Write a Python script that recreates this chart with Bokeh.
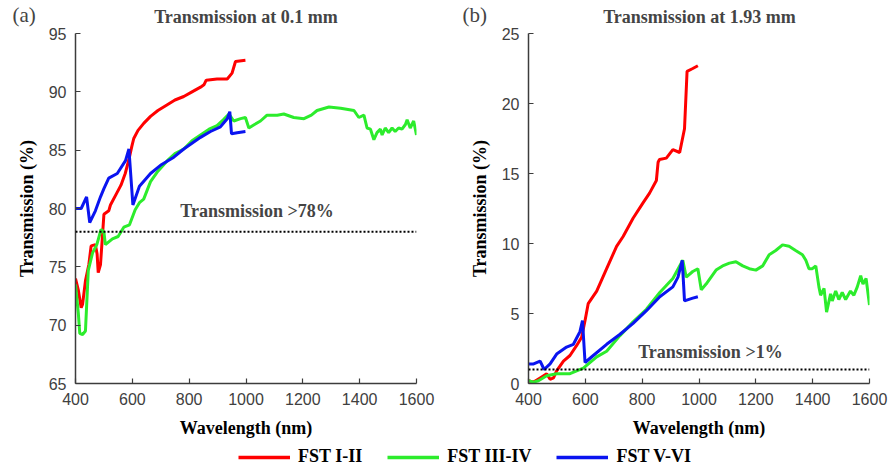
from bokeh.plotting import figure
from bokeh.models import Range1d, Label, Span, Legend, LegendItem
from bokeh.layouts import column, row
from bokeh.embed import file_html
from bokeh.resources import INLINE

# ---------------- data ----------------
x_ticks = [400, 600, 800, 1000, 1200, 1400, 1600]
ya_ticks = [65, 70, 75, 80, 85, 90, 95]
yb_ticks = [0, 5, 10, 15, 20, 25]
series_names = ["FST I-II", "FST III-IV", "FST V-VI"]
series_colors = ["#ff0000", "#2cec2c", "#0a14f0"]
panel_titles = ["Transmission at 0.1 mm", "Transmission at 1.93 mm"]
panel_tags = ["(a)", "(b)"]
threshold_a = 78
threshold_b = 1
notes = ["Transmission >78%", "Transmission >1%"]

# (a) Transmission at 0.1 mm
a_red_wl = [400, 410, 420, 425, 435, 447, 455, 470, 476, 480, 488, 500, 517, 523, 547, 560, 575, 588,
            598, 605, 620, 640, 664, 690, 723, 750, 781, 810, 840, 852, 860, 898, 934, 951, 963, 998]
a_red = [74.0, 73.0, 71.5, 71.8, 73.8, 75.2, 76.8, 76.9, 76.1, 74.5, 75.2, 79.5, 79.8, 80.3, 81.4, 82.0,
         83.0, 84.2, 85.3, 86.0, 86.7, 87.3, 87.9, 88.4, 88.9, 89.3, 89.6, 90.0, 90.4, 90.6, 91.0, 91.1,
         91.1, 91.6, 92.6, 92.7]

a_green_wl = [400, 410, 415, 425, 435, 445, 460, 475, 490, 500, 505, 530, 550, 570, 590, 610, 625, 640,
              664, 690, 723, 750, 781, 810, 840, 870, 898, 920, 940, 957, 981, 998, 1010, 1030, 1051,
              1074, 1110, 1133, 1168, 1204, 1230, 1250, 1292, 1333, 1380, 1397, 1415, 1426, 1438, 1450,
              1461, 1473, 1479, 1490, 1502, 1514, 1525, 1537, 1549, 1561, 1567, 1578, 1590, 1600]
a_green = [73.5, 71.0, 69.3, 69.2, 69.5, 74.7, 76.2, 76.9, 78.2, 78.0, 76.9, 77.4, 77.6, 78.4, 78.6,
           79.9, 80.5, 80.8, 82.3, 83.2, 84.1, 84.7, 85.1, 85.8, 86.3, 86.8, 87.1, 87.6, 88.1, 87.5,
           87.7, 87.8, 86.9, 87.2, 87.5, 88.0, 88.0, 88.1, 87.8, 87.7, 88.0, 88.4, 88.7, 88.6, 88.4,
           87.8, 88.0, 86.9, 86.8, 85.9, 86.5, 86.8, 86.3, 86.9, 86.5, 86.9, 86.6, 86.9, 86.8, 87.2,
           87.6, 86.9, 87.5, 86.3]

a_blue_wl = [400, 420, 439, 450, 470, 488, 500, 517, 547, 576, 588, 602, 625, 664, 699, 746, 781, 840,
             875, 910, 934, 943, 949, 969, 998]
a_blue = [80.0, 80.0, 81.0, 78.8, 79.8, 81.0, 81.7, 82.6, 83.0, 84.1, 85.1, 80.3, 81.9, 83.0, 83.7,
          84.4, 85.1, 86.1, 86.6, 87.0, 87.7, 88.3, 86.4, 86.5, 86.6]

# (b) Transmission at 1.93 mm
b_red_wl = [400, 418, 441, 464, 476, 488, 499, 523, 546, 569, 587, 599, 610, 640, 675, 710, 733, 768,
            803, 826, 850, 856, 861, 885, 908, 932, 949, 958, 978, 996]
b_red = [0.2, 0.1, 0.4, 0.7, 0.3, 0.4, 0.9, 1.6, 2.0, 2.7, 3.3, 4.5, 5.7, 6.6, 8.2, 9.8, 10.5, 11.8,
         12.9, 13.6, 14.5, 15.8, 16.0, 16.1, 16.7, 16.5, 18.2, 22.3, 22.5, 22.7]

b_green_wl = [400, 418, 435, 464, 499, 546, 593, 640, 675, 721, 768, 815, 862, 908, 943, 955, 978, 996,
              1008, 1025, 1060, 1083, 1107, 1130, 1154, 1177, 1200, 1224, 1247, 1270, 1294, 1317, 1340,
              1364, 1376, 1387, 1399, 1411, 1422, 1428, 1440, 1449, 1463, 1469, 1481, 1492, 1504, 1516,
              1533, 1545, 1557, 1569, 1577, 1588, 1600]
b_green = [0.2, 0.1, 0.2, 0.55, 0.7, 0.7, 1.1, 1.9, 2.3, 3.4, 4.4, 5.3, 6.5, 7.5, 8.8, 7.6, 8.0, 8.2,
           6.7, 7.1, 8.1, 8.4, 8.6, 8.7, 8.4, 8.2, 8.1, 8.4, 9.2, 9.5, 9.9, 9.8, 9.5, 9.2, 8.8, 8.2,
           8.2, 8.4, 6.9, 6.3, 6.8, 5.1, 6.4, 5.9, 6.6, 6.0, 6.5, 6.0, 6.6, 6.3, 6.9, 7.7, 7.1, 7.5, 5.6]

b_blue_wl = [400, 418, 441, 455, 476, 499, 534, 558, 581, 590, 599, 628, 675, 721, 768, 815, 862, 908,
             926, 941, 949, 978, 996]
b_blue = [1.4, 1.4, 1.6, 1.0, 1.4, 2.1, 2.6, 2.8, 3.7, 4.5, 1.5, 2.0, 2.8, 3.5, 4.3, 5.2, 6.2, 6.9,
          7.6, 8.8, 5.9, 6.1, 6.2]

SERIF = "Liberation Serif"
SANS = "Liberation Sans"
W = 888
TOP_H = 27
PANEL_H = 417
LEG_H = 25


def make_panel(width, mb_left, mb_right, yr, yticks, series, thr, note, note_x, note_y):
    p = figure(width=width, height=PANEL_H, output_backend="svg", toolbar_location=None,
               x_range=Range1d(400, 1600), y_range=Range1d(*yr),
               min_border_left=mb_left, min_border_right=mb_right,
               min_border_top=6, min_border_bottom=61)
    p.outline_line_color = None
    p.grid.visible = False
    for ax in (p.xaxis, p.yaxis):
        ax.axis_line_color = "#3c3c3c"
        ax.axis_line_width = 1.5
        ax.major_tick_line_color = "#3c3c3c"
        ax.major_tick_line_width = 1.2
        ax.major_tick_in = 5
        ax.major_tick_out = 0
        ax.minor_tick_line_color = None
        ax.major_label_text_font = SANS
        ax.major_label_text_font_size = "16px"
        ax.major_label_text_color = "#404040"
        ax.axis_label_text_font = SERIF
        ax.axis_label_text_font_style = "bold"
        ax.axis_label_text_font_size = "18px"
        ax.axis_label_text_color = "black"
    p.xaxis.ticker = x_ticks
    p.yaxis.ticker = yticks
    p.xaxis.major_label_standoff = 9
    p.yaxis.major_label_standoff = 9
    p.xaxis.axis_label = "Wavelength (nm)"
    p.yaxis.axis_label = "Transmission (%)"
    p.xaxis.axis_label_standoff = 10
    p.yaxis.axis_label_standoff = 9

    p.add_layout(Span(location=thr, dimension="width", line_color="black",
                      line_dash="2 2", line_width=2))
    for (xs, ys), c in zip(series, series_colors):
        p.line(xs, ys, line_color=c, line_width=3)
    p.add_layout(Label(x=note_x, y=note_y, text=note, text_font=SERIF, text_font_style="bold",
                       text_font_size="18px", text_baseline="middle", text_align="left"))
    return p


# top strip with panel tags and titles (pixel coordinates, y downward)
p0 = figure(width=W, height=TOP_H, output_backend="svg", toolbar_location=None,
            x_range=Range1d(0, W), y_range=Range1d(TOP_H, 0),
            x_axis_location=None, y_axis_location=None,
            min_border_left=0, min_border_right=0, min_border_top=0, min_border_bottom=0)
p0.outline_line_color = None
p0.grid.visible = False
for tag, tx in zip(panel_tags, [12, 462]):
    p0.add_layout(Label(x=tx, y=14.5, text=tag, text_font=SERIF, text_font_size="21px",
                        text_baseline="middle", text_align="left"))
for title, cx in zip(panel_titles, [245.5, 699]):
    p0.add_layout(Label(x=cx, y=16.8, text=title, text_font=SERIF, text_font_style="bold",
                        text_font_size="18px", text_baseline="middle", text_align="center"))

p1 = make_panel(448, 75, 32, (65, 95), ya_ticks,
                [(a_red_wl, a_red), (a_green_wl, a_green), (a_blue_wl, a_blue)],
                threshold_a, notes[0], 769, 79.8)
p2 = make_panel(440, 80, 19, (0, 25), yb_ticks,
                [(b_red_wl, b_red), (b_green_wl, b_green), (b_blue_wl, b_blue)],
                threshold_b, notes[1], 786, 2.25)

# legend strip (renderers lie outside the strip's ranges; only their legend glyphs show)
p3 = figure(width=W, height=LEG_H, output_backend="svg", toolbar_location=None,
            x_range=Range1d(0, 1), y_range=Range1d(0, 1),
            x_axis_location=None, y_axis_location=None,
            min_border_left=0, min_border_right=0, min_border_top=0, min_border_bottom=0)
p3.outline_line_color = None
p3.grid.visible = False
items = []
for name, c, (xs, ys) in zip(series_names, series_colors,
                             [(a_red_wl, a_red), (a_green_wl, a_green), (a_blue_wl, a_blue)]):
    r = p3.line(xs, ys, line_color=c, line_width=3.5)
    items.append(LegendItem(label=name, renderers=[r]))
leg = Legend(items=items, orientation="horizontal", location=(238, 2),
             glyph_width=52, glyph_height=14, label_height=14, label_standoff=8, spacing=25,
             padding=0, margin=0, border_line_color=None, background_fill_alpha=0,
             label_text_font=SERIF, label_text_font_style="bold", label_text_font_size="18px",
             label_text_color="black")
p3.add_layout(leg)

layout = column(p0, row(p1, p2), p3)
open("out.html", "w").write(file_html(layout, INLINE))
